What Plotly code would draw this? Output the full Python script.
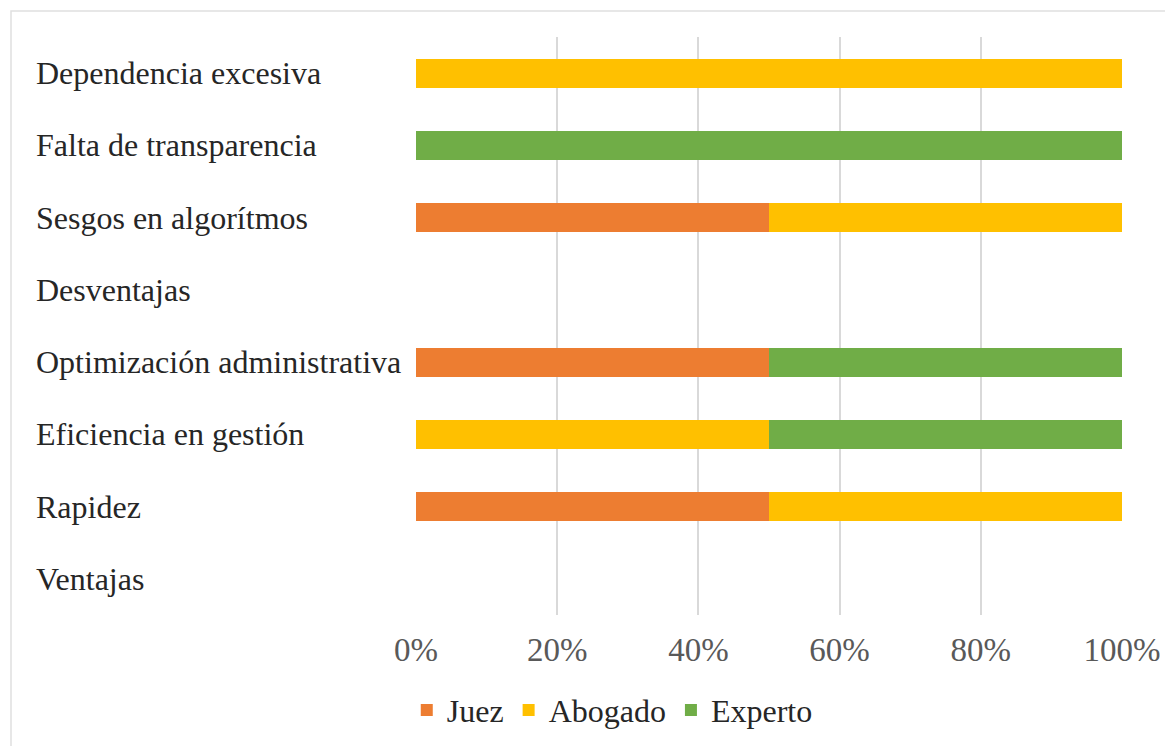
import plotly.graph_objects as go

categories = ["Ventajas", "Rapidez", "Eficiencia en gestión", "Optimización administrativa",
              "Desventajas", "Sesgos en algorítmos", "Falta de transparencia", "Dependencia excesiva"]
juez = [0, 50, 0, 50, 0, 50, 0, 0]
abogado = [0, 50, 50, 0, 0, 50, 0, 100]
experto = [0, 0, 50, 50, 0, 0, 100, 0]
tick_vals = [0, 20, 40, 60, 80, 100]
tick_text = ["0%", "20%", "40%", "60%", "80%", "100%"]

FONT = "Liberation Serif"
W, H = 1173, 746
OFF = 8  # page body margin
L, R, T, B = 416 - OFF, 1173 - 1122 + OFF, 37 - OFF, 746 - 615 + OFF
PW, PH = W - L - R, H - T - B

fig = go.Figure()
for name, vals, col in [("Juez", juez, "#ED7D31"), ("Abogado", abogado, "#FFC000"), ("Experto", experto, "#70AD47")]:
    fig.add_trace(go.Bar(y=categories, x=vals, name=name, orientation="h",
                         marker=dict(color=col, line=dict(width=0)), width=0.4))

for c in categories:
    fig.add_annotation(x=(34 - OFF - L) / PW, xref="paper", y=c, yref="y",
                       text=c, showarrow=False, xanchor="left", yanchor="middle",
                       font=dict(family=FONT, size=32, color="#262626"))

fig.add_shape(type="rect", xref="paper", yref="paper",
              x0=(11 - OFF - L) / PW, x1=2,
              y0=-1, y1=1 + (T - (11 - OFF)) / PH,
              line=dict(color="#e0e0e0", width=1.5), fillcolor="rgba(0,0,0,0)", layer="below")

fig.update_layout(
    width=W, height=H, barmode="stack",
    margin=dict(l=L, r=R, t=T, b=B),
    plot_bgcolor="white", paper_bgcolor="white",
    font=dict(family=FONT, size=32, color="#404040"),
    xaxis=dict(range=[0, 100], tickvals=tick_vals, ticktext=tick_text,
               showgrid=True, gridcolor="#d9d9d9", gridwidth=2, zeroline=False,
               showline=False, ticks="", ticklabelstandoff=12,
               tickfont=dict(family=FONT, size=33, color="#595959")),
    yaxis=dict(categoryorder="array", categoryarray=categories, showticklabels=False,
               showgrid=False, zeroline=False, showline=False, range=[-0.5, 7.5]),
    legend=dict(orientation="h", x=0.278, xanchor="center", y=-0.117, yanchor="top",
                font=dict(family=FONT, size=32, color="#262626"),
                traceorder="normal", itemwidth=30, itemsizing="constant"),
    bargap=0.6,
)

fig.write_html("out.html")
